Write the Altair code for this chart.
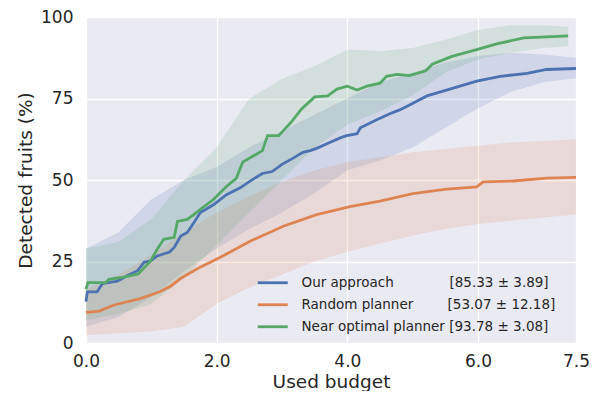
import altair as alt
import pandas as pd

# ---- data ----
lab_blue = "Our approach" + "\u00a0" * 13 + "[85.33 ± 3.89]"
lab_orange = "Random planner" + "\u00a0" * 8 + "[53.07 ± 12.18]"
lab_green = "Near optimal planner [93.78 ± 3.08]"
series_labels = [lab_blue, lab_orange, lab_green]
series_colors = ["#4C72B0", "#DD8452", "#55A868"]

blue_x = [0, 0.02, 0.17, 0.25, 0.48, 0.63, 0.79, 0.89, 0.99, 1.09, 1.28, 1.35, 1.45, 1.55, 1.65,
          1.75, 1.95, 2.15, 2.36, 2.5, 2.7, 2.85, 3.0, 3.17, 3.32, 3.43, 3.53, 3.73, 3.9, 3.99,
          4.15, 4.2, 4.45, 4.65, 4.8, 4.9, 5.22, 5.62, 5.98, 6.34, 6.75, 7.05, 7.5]
blue_y = [12.7, 15.7, 15.7, 18.2, 19, 20.6, 22.2, 24.8, 25.2, 26.7, 27.9, 29.3, 32.8, 33.9, 36.9,
          40, 42.4, 45.5, 47.6, 49.5, 52, 52.6, 54.8, 56.7, 58.5, 59, 59.7, 61.5, 63, 63.6,
          64.2, 66, 68.5, 70.3, 71.5, 72.5, 75.8, 78.2, 80.3, 81.8, 82.7, 83.9, 84.2]

orange_x = [0, 0.2, 0.41, 0.6, 0.83, 1.13, 1.3, 1.44, 1.74, 2.05, 2.51, 3.02, 3.53, 4.04, 4.5,
            5.0, 5.52, 5.98, 6.08, 6.54, 7.05, 7.5]
orange_y = [9.4, 9.8, 11.5, 12.5, 13.6, 15.7, 17.5, 19.7, 23.2, 26.2, 31.2, 35.8, 39.4, 41.8, 43.5,
            45.8, 47.2, 47.9, 49.4, 49.7, 50.6, 50.8]

green_x = [0, 0.03, 0.3, 0.35, 0.6, 0.8, 0.99, 1.09, 1.19, 1.35, 1.4, 1.55, 1.65, 1.75, 1.95,
           2.15, 2.3, 2.4, 2.7, 2.78, 2.95, 3.15, 3.3, 3.5, 3.7, 3.84, 4.0, 4.15, 4.3, 4.5,
           4.6, 4.76, 4.95, 5.2, 5.3, 5.6, 5.98, 6.3, 6.7, 7.05, 7.38]
green_y = [16.5, 18.5, 18.5, 19.5, 20.3, 21.2, 25.2, 28.8, 31.8, 32.4, 37.3, 37.9, 39.4, 41, 44,
           48, 50.5, 55.5, 59, 63.6, 63.6, 68, 71.8, 75.5, 75.8, 77.9, 78.8, 77.6, 78.8, 79.7,
           81.8, 82.4, 82, 83.5, 85.5, 87.9, 90, 91.8, 93.6, 93.9, 94.2]

band_x = [0, 0.5, 1.0, 1.5, 2.0, 2.5, 3.0, 3.5, 4.0, 4.5, 5.0, 5.5, 6.0, 6.5, 7.0, 7.5]
green_band_x = [0, 0.5, 1.0, 1.5, 2.0, 2.5, 3.0, 3.5, 4.0, 4.5, 5.0, 5.5, 6.0, 6.5, 7.0, 7.38]
blue_lo = [5, 8, 14, 22, 29, 35, 40, 46, 53, 56, 60, 66, 72, 77, 80, 81.2]
blue_hi = [29, 34, 44, 50, 54, 60, 65, 70, 75, 80, 83, 86, 88, 89, 88.5, 87.5]
orange_lo = [2.4, 3, 3.5, 5, 12, 17, 21, 25, 28, 30.5, 33, 35, 36.5, 37.5, 38.5, 39.4]
orange_hi = [16.5, 21, 27, 34, 40, 45, 49.5, 53, 55.5, 57, 58.5, 59.5, 60.5, 61.5, 62, 62.5]
green_lo = [7, 9, 12, 20, 30, 40, 50, 60, 67, 71, 76, 83, 87, 89, 90.5, 91]
green_hi = [29, 31, 38, 50, 60, 75, 81, 85, 90, 89.5, 90.5, 93, 96, 97.5, 97.5, 97]

x_ticks = [0, 2, 4, 6, 7.5]
y_ticks = [0, 25, 50, 75, 100]

# ---- tables ----
lines = pd.concat([
    pd.DataFrame({"x": blue_x, "y": blue_y, "series": lab_blue}),
    pd.DataFrame({"x": orange_x, "y": orange_y, "series": lab_orange}),
    pd.DataFrame({"x": green_x, "y": green_y, "series": lab_green}),
], ignore_index=True)
band_tables = [
    pd.DataFrame({"x": band_x, "lo": blue_lo, "hi": blue_hi}),
    pd.DataFrame({"x": band_x, "lo": orange_lo, "hi": orange_hi}),
    pd.DataFrame({"x": green_band_x, "lo": green_lo, "hi": green_hi}),
]

xscale = alt.Scale(domain=[0, 7.5], nice=False, zero=False)
yscale = alt.Scale(domain=[0, 100], nice=False)
xaxis = alt.Axis(values=x_ticks, format=".1f", title="Used budget", labelPadding=10,
                 titlePadding=3, grid=True, labelFlush=False)
yaxis = alt.Axis(values=y_ticks, title="Detected fruits (%)", labelPadding=13,
                 titlePadding=5, grid=True, labelFlush=False)

band_layers = [
    alt.Chart(tbl).mark_area(opacity=0.16, color=col).encode(
        x=alt.X("x:Q", scale=xscale, axis=xaxis),
        y=alt.Y("lo:Q", scale=yscale, axis=yaxis),
        y2="hi:Q",
    )
    for tbl, col in zip(band_tables, series_colors)
]

line_layer = alt.Chart(lines).mark_line(strokeWidth=2.8).encode(
    x=alt.X("x:Q", scale=xscale, axis=xaxis),
    y=alt.Y("y:Q", scale=yscale, axis=yaxis),
    color=alt.Color(
        "series:N",
        scale=alt.Scale(domain=series_labels, range=series_colors),
        legend=alt.Legend(
            title=None, orient="none", legendX=180, legendY=259,
            symbolType="M-3,0H3", symbolSize=100, symbolStrokeWidth=2.8,
            labelOffset=22, labelFontSize=13.5, labelLimit=400, labelColor="#262626",
            rowPadding=7, padding=0,
        ),
    ),
)

chart = alt.layer(*band_layers, line_layer).properties(
    width=490, height=326,
    autosize=alt.AutoSizeParams(type="none"),
    padding={"left": 78, "top": 9, "right": 19, "bottom": 48},
).configure(
    font="DejaVu Sans",
).configure_view(
    fill="#EAEAF2", stroke=None,
).configure_axis(
    domain=False, ticks=False, tickSize=0,
    gridColor="white", gridWidth=1.3, gridOpacity=1,
    labelFont="DejaVu Sans", titleFont="DejaVu Sans",
    labelFontSize=17, titleFontSize=18.5, titleFontWeight="normal",
    labelColor="#262626", titleColor="#262626",
)

chart.save("out.html", embed_options={"renderer": "svg", "actions": False})
